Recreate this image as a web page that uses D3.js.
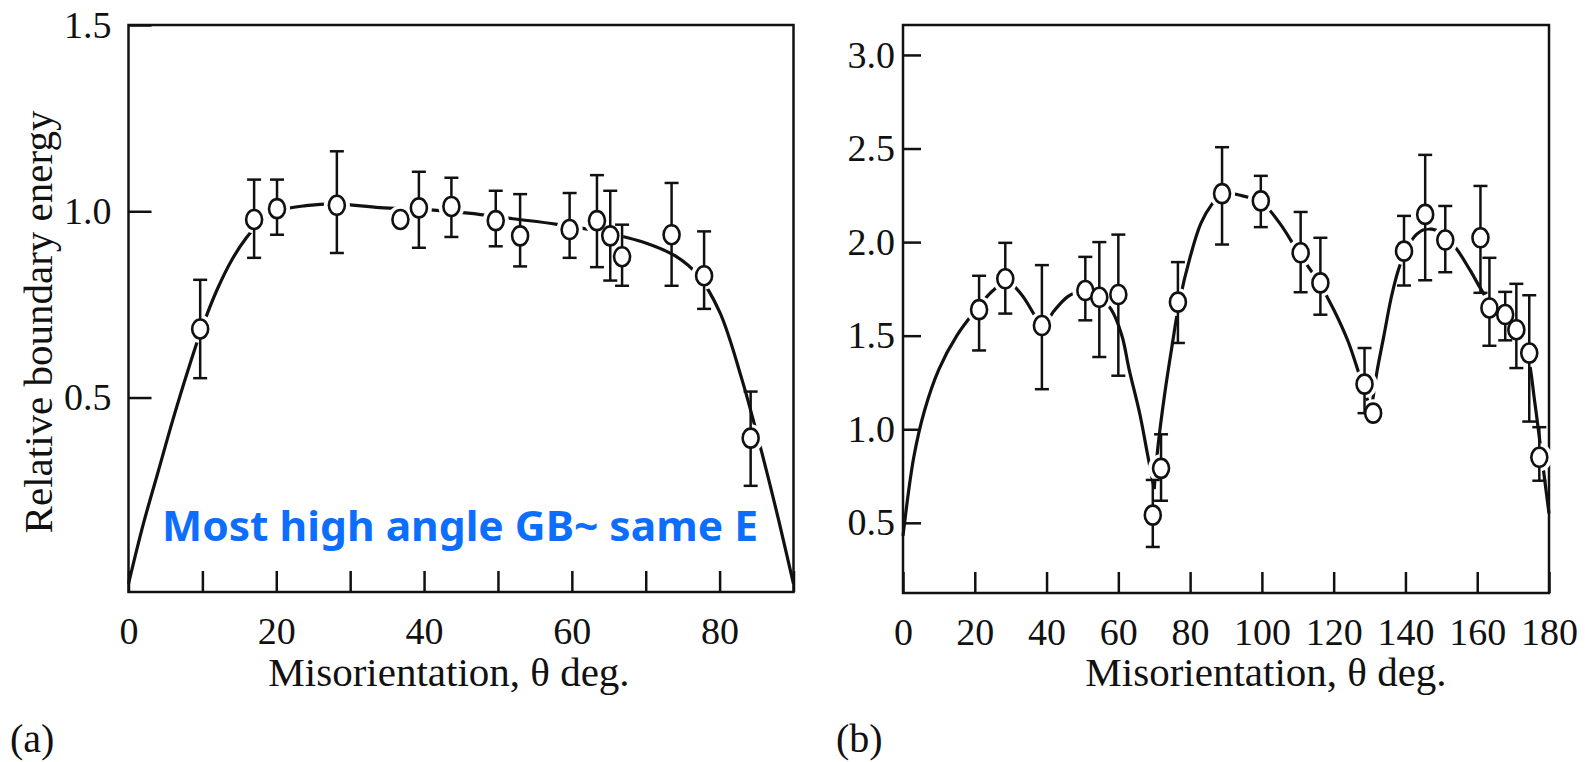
<!DOCTYPE html>
<html>
<head>
<meta charset="utf-8">
<script src="https://cdn.jsdelivr.net/npm/d3@7"></script>
<style>
  html, body { margin: 0; padding: 0; background: #fff; }
</style>
</head>
<body>
<div id="chart"></div>
<script>
// Canvas
const width = 1585;
const height = 762;

// Panel (a): measured points
const aTheta  = [9.7, 17.0, 20.1, 28.2, 36.8, 39.3, 43.7, 49.7, 53.0, 59.7, 63.4, 65.2, 66.8, 73.5, 77.9, 84.2];
const aEnergy = [0.684, 0.978, 1.007, 1.016, 0.978, 1.009, 1.013, 0.975, 0.934, 0.951, 0.975, 0.934, 0.878, 0.937, 0.827, 0.391];
const aErrHi  = [0.816, 1.085, 1.085, 1.161, null, 1.106, 1.09, 1.055, 1.046, 1.049, 1.097, 1.055, 0.964, 1.076, 0.946, 0.516];
const aErrLo  = [0.552, 0.875, 0.937, 0.888, null, 0.902, 0.931, 0.906, 0.852, 0.875, 0.85, 0.814, 0.80, 0.80, 0.738, 0.263];

// Panel (a): guide curve
const aCurveTheta  = [0, 2, 4, 6, 8, 10, 12, 14, 16, 18, 20, 24, 28, 34, 40, 46, 52, 58, 64, 70, 74, 77, 80, 83, 86, 88, 90];
const aCurveEnergy = [0, 0.16, 0.3, 0.44, 0.57, 0.69, 0.79, 0.87, 0.93, 0.975, 1.0, 1.015, 1.02, 1.01, 1.005, 0.995, 0.98, 0.965, 0.945, 0.915, 0.88, 0.83, 0.73, 0.55, 0.33, 0.17, 0];

// Panel (b): measured points
const bTheta  = [21.2, 28.5, 38.7, 50.8, 54.7, 60.0, 69.6, 71.9, 76.6, 88.9, 99.7, 110.8, 116.3, 128.6, 131.0, 139.6, 145.5, 151.1, 160.9, 163.4, 167.8, 170.9, 174.5, 177.3];
const bEnergy = [1.639, 1.804, 1.554, 1.741, 1.705, 1.72, 0.541, 0.791, 1.679, 2.259, 2.22, 1.943, 1.782, 1.241, 1.086, 1.952, 2.148, 2.011, 2.023, 1.648, 1.613, 1.532, 1.407, 0.85];
const bErrHi  = [1.82, 1.996, 1.877, 1.921, 2.0, 2.04, 0.729, 0.973, 1.893, 2.507, 2.354, 2.161, 2.023, 1.434, null, 2.14, 2.466, 2.193, 2.30, 1.916, 1.734, 1.777, 1.716, 1.011];
const bErrLo  = [1.421, 1.618, 1.214, 1.582, 1.386, 1.286, 0.371, 0.618, 1.461, 1.987, 2.08, 1.732, 1.612, 1.086, null, 1.768, 1.796, 1.839, 1.729, 1.446, 1.475, 1.327, 1.041, 0.725];

// Panel (b): guide curve, three branches meeting at the cusps
const bCurve1Theta  = [0, 3, 6, 10, 15, 20, 25, 29, 33, 37, 39, 42, 46, 50, 54, 58, 61, 63, 66, 68, 70];
const bCurve1Energy = [0.43, 0.85, 1.1, 1.32, 1.5, 1.63, 1.74, 1.79, 1.72, 1.6, 1.55, 1.63, 1.71, 1.74, 1.72, 1.64, 1.5, 1.32, 1.08, 0.88, 0.68];
const bCurve2Theta  = [70, 71, 73, 75, 77, 80, 83, 86, 89, 94, 100, 105, 110, 116, 120, 124, 127, 129, 130.5];
const bCurve2Energy = [0.68, 0.9, 1.2, 1.45, 1.68, 1.92, 2.1, 2.2, 2.26, 2.25, 2.21, 2.1, 1.95, 1.78, 1.64, 1.47, 1.3, 1.18, 1.1];
const bCurve3Theta  = [130.5, 132, 134, 136, 138, 140, 143, 146, 150, 154, 158, 161, 164, 168, 171, 174, 176, 178, 180];
const bCurve3Energy = [1.1, 1.3, 1.5, 1.7, 1.85, 1.95, 2.04, 2.07, 2.05, 1.97, 1.85, 1.75, 1.66, 1.6, 1.53, 1.4, 1.15, 0.85, 0.55];

// Ticks
const aXTicks = [0, 10, 20, 30, 40, 50, 60, 70, 80, 90];
const aXLabels = [0, 20, 40, 60, 80];
const aYTicks = [0.5, 1.0, 1.5];
const bXTicks = [0, 20, 40, 60, 80, 100, 120, 140, 160, 180];
const bYTicks = [0.5, 1.0, 1.5, 2.0, 2.5, 3.0];

const ink = "#111";
const serif = "'Liberation Serif', 'Times New Roman', serif";

const svg = d3.select("#chart")
  .append("svg")
  .attr("width", width)
  .attr("height", height)
  .style("background-color", "#fff");

function zip(xs, ys) {
  return xs.map((x, i) => ({ x, y: ys[i] }));
}

// Draws one framed panel
function drawPanel(p) {
  const x = d3.scaleLinear().domain(p.xDomain).range([p.left, p.right]);
  const y = d3.scaleLinear().domain(p.yDomain).range([p.bottom, p.top]);
  const g = svg.append("g");

  // inward ticks on the bottom
  g.append("g")
    .attr("transform", `translate(0,${p.bottom})`)
    .call(d3.axisBottom(x).tickValues(p.xTicks).tickSizeInner(-21).tickSizeOuter(0)
      .tickFormat(d => p.xLabels.includes(d) ? d : ""))
    .call(a => a.select(".domain").remove())
    .call(a => a.selectAll("line").attr("stroke", ink).attr("stroke-width", 2.5))
    .call(a => a.selectAll("text")
      .attr("y", 25).attr("dy", "0.71em")
      .attr("fill", ink)
      .style("font-family", serif).style("font-size", "38px"));

  // inward ticks on the left
  g.append("g")
    .attr("transform", `translate(${p.left},0)`)
    .call(d3.axisLeft(y).tickValues(p.yTicks).tickSizeInner(-p.yTickLen).tickSizeOuter(0)
      .tickFormat(d3.format(".1f")))
    .call(a => a.select(".domain").remove())
    .call(a => a.selectAll("line").attr("stroke", ink).attr("stroke-width", 2.5))
    .call(a => a.selectAll("text")
      .attr("x", -p.yLabelGap)
      .attr("fill", ink)
      .style("font-family", serif).style("font-size", "38px"));

  // frame
  g.append("rect")
    .attr("x", p.left).attr("y", p.top)
    .attr("width", p.right - p.left).attr("height", p.bottom - p.top)
    .attr("fill", "none").attr("stroke", ink).attr("stroke-width", 2.5);

  // guide curve
  const line = d3.line().x(d => x(d.x)).y(d => y(d.y)).curve(d3.curveCatmullRom.alpha(0.5));
  p.curves.forEach(c => {
    g.append("path")
      .attr("d", line(c))
      .attr("fill", "none")
      .attr("stroke", ink)
      .attr("stroke-width", 3.2);
  });

  const pts = p.theta.map((t, i) => ({ t, e: p.energy[i], hi: p.hi[i], lo: p.lo[i] }));

  // white halos break the curve around the markers
  g.selectAll(".halo").data(pts).join("ellipse")
    .attr("cx", d => x(d.t)).attr("cy", d => y(d.e))
    .attr("rx", 13).attr("ry", 14)
    .attr("fill", "#fff");

  // error bars
  const bars = g.selectAll(".bar").data(pts.filter(d => d.hi != null)).join("g")
    .attr("stroke", ink).attr("stroke-width", 2.5);
  bars.append("line")
    .attr("x1", d => x(d.t)).attr("x2", d => x(d.t))
    .attr("y1", d => y(d.hi)).attr("y2", d => y(d.lo));
  bars.append("line")
    .attr("x1", d => x(d.t) - 7).attr("x2", d => x(d.t) + 7)
    .attr("y1", d => y(d.hi)).attr("y2", d => y(d.hi));
  bars.append("line")
    .attr("x1", d => x(d.t) - 7).attr("x2", d => x(d.t) + 7)
    .attr("y1", d => y(d.lo)).attr("y2", d => y(d.lo));

  // open circles
  g.selectAll(".pt").data(pts).join("ellipse")
    .attr("cx", d => x(d.t)).attr("cy", d => y(d.e))
    .attr("rx", 8).attr("ry", 9.5)
    .attr("fill", "#fff")
    .attr("stroke", ink).attr("stroke-width", 2.6);

  // x title
  g.append("text")
    .attr("x", (p.left + p.right) / 2 + p.titleShift).attr("y", 686)
    .attr("text-anchor", "middle")
    .attr("fill", ink)
    .style("font-family", serif).style("font-size", "41px")
    .text("Misorientation, \u03b8 deg.");

  // panel letter
  g.append("text")
    .attr("x", p.letterX).attr("y", 752)
    .attr("fill", ink)
    .style("font-family", serif).style("font-size", "40px")
    .text(p.letter);

  return { x, y, g };
}

const panelA = drawPanel({
  left: 128.5, right: 793.5, top: 25, bottom: 592,
  xDomain: [0, 90], yDomain: [-0.022, 1.5],
  xTicks: aXTicks, xLabels: aXLabels, yTicks: aYTicks,
  yTickLen: 23, yLabelGap: 17, titleShift: -12,
  theta: aTheta, energy: aEnergy, hi: aErrHi, lo: aErrLo,
  curves: [zip(aCurveTheta, aCurveEnergy)],
  letter: "(a)", letterX: 10
});

const panelB = drawPanel({
  left: 903, right: 1549, top: 25, bottom: 593,
  xDomain: [0, 180], yDomain: [0.125, 3.16],
  xTicks: bXTicks, xLabels: bXTicks, yTicks: bYTicks,
  yTickLen: 18, yLabelGap: 8, titleShift: 40,
  theta: bTheta, energy: bEnergy, hi: bErrHi, lo: bErrLo,
  curves: [zip(bCurve1Theta, bCurve1Energy), zip(bCurve2Theta, bCurve2Energy), zip(bCurve3Theta, bCurve3Energy)],
  letter: "(b)", letterX: 836
});

// y title for panel (a)
svg.append("text")
  .attr("transform", "translate(52,322) rotate(-90)")
  .attr("text-anchor", "middle")
  .attr("fill", ink)
  .style("font-family", serif).style("font-size", "41px")
  .text("Relative boundary energy");

// blue annotation
svg.append("text")
  .attr("x", 162).attr("y", 541)
  .attr("fill", "#0d6efd")
  .attr("textLength", 596)
  .attr("lengthAdjust", "spacingAndGlyphs")
  .style("font-family", "'Noto Sans', sans-serif")
  .style("font-weight", "bold")
  .style("font-size", "41px")
  .text("Most high angle GB~ same E");
</script>
</body>
</html>
